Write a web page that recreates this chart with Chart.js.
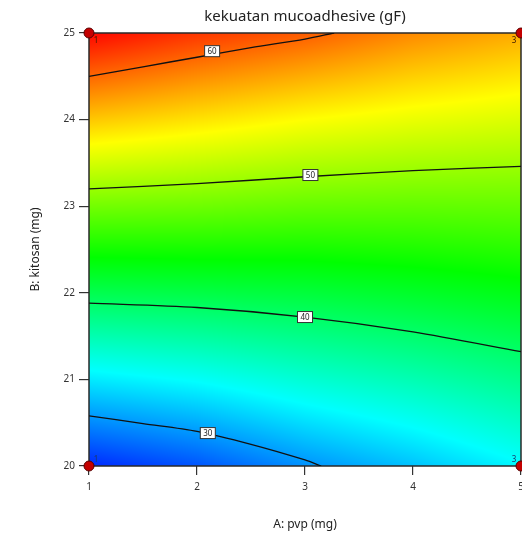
<!DOCTYPE html>
<html>
<head>
<meta charset="utf-8">
<script src="https://cdn.jsdelivr.net/npm/chart.js"></script>
<style>
  html, body { margin: 0; padding: 0; background: #ffffff; }
  #wrap { width: 522px; height: 538px; position: relative; overflow: hidden; }
</style>
</head>
<body>
<div id="wrap"><canvas id="contourChart"></canvas></div>
<script>
// response surface (gF), rows = kitosan, columns = pvp
const pvpLevels = [1, 2, 3, 4, 5];
const kitosanLevels = [20, 21, 22, 23, 24, 25];
const resp20 = [25.6, 27.3, 29.7, 31.6, 33.8];
const resp21 = [33.2, 34.2, 35.7, 37.0, 38.5];
const resp22 = [40.9, 41.3, 41.7, 42.4, 43.2];
const resp23 = [48.5, 48.3, 47.9, 47.8, 47.9];
const resp24 = [56.2, 55.1, 54.0, 53.2, 52.6];
const resp25 = [63.8, 61.9, 60.4, 58.6, 57.3];
const respGrid = [resp20, resp21, resp22, resp23, resp24, resp25];
const respMin = 24, respMax = 64;

// contour lines
const contour60 = [{x:1,y:24.50},{x:1.5,y:24.61},{x:2,y:24.72},{x:2.5,y:24.83},{x:3,y:24.93},{x:3.27,y:25}];
const contour50 = [{x:1,y:23.20},{x:2,y:23.26},{x:3,y:23.34},{x:4,y:23.41},{x:5,y:23.46}];
const contour40 = [{x:1,y:21.88},{x:2,y:21.83},{x:3,y:21.72},{x:4,y:21.55},{x:5,y:21.32}];
const contour30 = [{x:1,y:20.58},{x:1.5,y:20.49},{x:2,y:20.40},{x:2.5,y:20.25},{x:3,y:20.07},{x:3.15,y:20}];
const contourLabels = ['60', '50', '40', '30'];
const contourLabelX = [2.14, 3.05, 3.0, 2.1];
const contourLabelY = [24.79, 23.36, 21.72, 20.38];

// design points
const designPoints = [{x:1,y:25},{x:5,y:25},{x:1,y:20},{x:5,y:20}];
const designCounts = ['1', '3', '1', '3'];

function colorFor(v) {
  let t = (v - respMin) / (respMax - respMin);
  t = Math.max(0, Math.min(1, t));
  const stops = [[0,0,0,255],[0.25,0,255,255],[0.5,0,255,0],[0.75,255,255,0],[1,255,0,0]];
  for (let i = 1; i < stops.length; i++) {
    if (t <= stops[i][0]) {
      const a = stops[i-1], b = stops[i];
      const f = (t - a[0]) / (b[0] - a[0]);
      return [a[1]+(b[1]-a[1])*f, a[2]+(b[2]-a[2])*f, a[3]+(b[3]-a[3])*f];
    }
  }
  return [255,0,0];
}

function surfaceAt(x, y) {
  let i = (x - pvpLevels[0]) / (pvpLevels[1] - pvpLevels[0]);
  let j = (y - kitosanLevels[0]) / (kitosanLevels[1] - kitosanLevels[0]);
  i = Math.max(0, Math.min(pvpLevels.length - 1.0001, i));
  j = Math.max(0, Math.min(kitosanLevels.length - 1.0001, j));
  const i0 = Math.floor(i), j0 = Math.floor(j);
  const fi = i - i0, fj = j - j0;
  const a = respGrid[j0][i0], b = respGrid[j0][i0+1];
  const c = respGrid[j0+1][i0], d = respGrid[j0+1][i0+1];
  return (a*(1-fi) + b*fi)*(1-fj) + (c*(1-fi) + d*fi)*fj;
}

const surfacePlugin = {
  id: 'surface',
  beforeDatasetsDraw(chart) {
    const {ctx, chartArea, scales} = chart;
    const left = Math.round(chartArea.left), top = Math.round(chartArea.top);
    const w = Math.round(chartArea.right) - left, h = Math.round(chartArea.bottom) - top;
    const img = ctx.createImageData(w, h);
    for (let py = 0; py < h; py++) {
      const yv = scales.y.getValueForPixel(top + py + 0.5);
      for (let px = 0; px < w; px++) {
        const xv = scales.x.getValueForPixel(left + px + 0.5);
        const c = colorFor(surfaceAt(xv, yv));
        const k = (py * w + px) * 4;
        img.data[k] = c[0]; img.data[k+1] = c[1]; img.data[k+2] = c[2]; img.data[k+3] = 255;
      }
    }
    ctx.putImageData(img, left, top);
    ctx.save();
    ctx.strokeStyle = '#2a2a2a';
    ctx.lineWidth = 1.5;
    ctx.strokeRect(chartArea.left, chartArea.top, chartArea.right - chartArea.left, chartArea.bottom - chartArea.top);
    ctx.restore();
  },
  afterDatasetsDraw(chart) {
    const {ctx, scales} = chart;
    ctx.save();
    ctx.font = '8px "Noto Sans", sans-serif';
    ctx.textAlign = 'center';
    ctx.textBaseline = 'middle';
    contourLabels.forEach((txt, i) => {
      const px = scales.x.getPixelForValue(contourLabelX[i]);
      const py = scales.y.getPixelForValue(contourLabelY[i]);
      ctx.fillStyle = '#ffffff';
      ctx.fillRect(px - 7.5, py - 5.5, 15, 11);
      ctx.strokeStyle = '#333333';
      ctx.lineWidth = 1;
      ctx.strokeRect(px - 7.5, py - 5.5, 15, 11);
      ctx.fillStyle = '#222222';
      ctx.fillText(txt, px, py + 0.5);
    });
    ctx.font = '8px "Noto Sans", sans-serif';
    designPoints.forEach((p, i) => {
      const px = scales.x.getPixelForValue(p.x);
      const py = scales.y.getPixelForValue(p.y);
      const dx = p.x === 1 ? 7 : -7;
      const dy = p.y === 25 ? 8 : -6;
      ctx.fillStyle = p.y === 25 ? '#3a1a00' : '#1a3a6a';
      ctx.fillText(designCounts[i], px + dx, py + dy);
    });
    ctx.restore();
  }
};

function contourSet(data) {
  return {
    type: 'scatter', data: data, showLine: true, borderColor: '#111111',
    borderWidth: 1.3, pointRadius: 0, tension: 0.3, fill: false
  };
}

new Chart(document.getElementById('contourChart'), {
  type: 'scatter',
  data: {
    datasets: [
      contourSet(contour60), contourSet(contour50), contourSet(contour40), contourSet(contour30),
      {
        data: designPoints, pointRadius: 5, pointBackgroundColor: '#c40000',
        pointBorderColor: '#5a0000', pointBorderWidth: 1, clip: false
      }
    ]
  },
  options: {
    responsive: true,
    maintainAspectRatio: false,
    animation: false,
    layout: { autoPadding: false, padding: { left: 0, top: 0, bottom: 0, right: 1 } },
    plugins: {
      legend: { display: false },
      tooltip: { enabled: false },
      title: {
        display: true,
        text: 'kekuatan mucoadhesive (gF)',
        fullSize: false,
        color: '#222222',
        font: { family: '"Noto Sans", sans-serif', size: 15, weight: 'normal' },
        padding: { top: 8, bottom: 7 }
      }
    },
    scales: {
      x: {
        type: 'linear', min: 1, max: 5,
        ticks: { stepSize: 1, color: '#333333', padding: 6,
          font: { family: '"Noto Sans", sans-serif', size: 10 } },
        grid: { drawOnChartArea: false, drawTicks: true, tickLength: 9, color: '#333333', lineWidth: 1.2 },
        border: { display: false },
        title: { display: true, text: 'A: pvp (mg)', color: '#222222',
          font: { family: '"Noto Sans", sans-serif', size: 12 }, padding: { bottom: 6 } },
        afterFit(scale) { scale.height = 72; scale.paddingLeft = 0; scale.paddingRight = 0; }
      },
      y: {
        type: 'linear', min: 20, max: 25,
        ticks: { stepSize: 1, color: '#333333', padding: 4,
          font: { family: '"Noto Sans", sans-serif', size: 10 } },
        grid: { drawOnChartArea: false, drawTicks: true, tickLength: 10, color: '#333333', lineWidth: 1.2 },
        border: { display: false },
        title: { display: true, text: 'B: kitosan (mg)', color: '#222222',
          font: { family: '"Noto Sans", sans-serif', size: 12 }, padding: { top: 28 } },
        afterFit(scale) { scale.width = 89; scale.paddingTop = 0; scale.paddingBottom = 0; }
      }
    }
  },
  plugins: [surfacePlugin]
});
</script>
</body>
</html>
